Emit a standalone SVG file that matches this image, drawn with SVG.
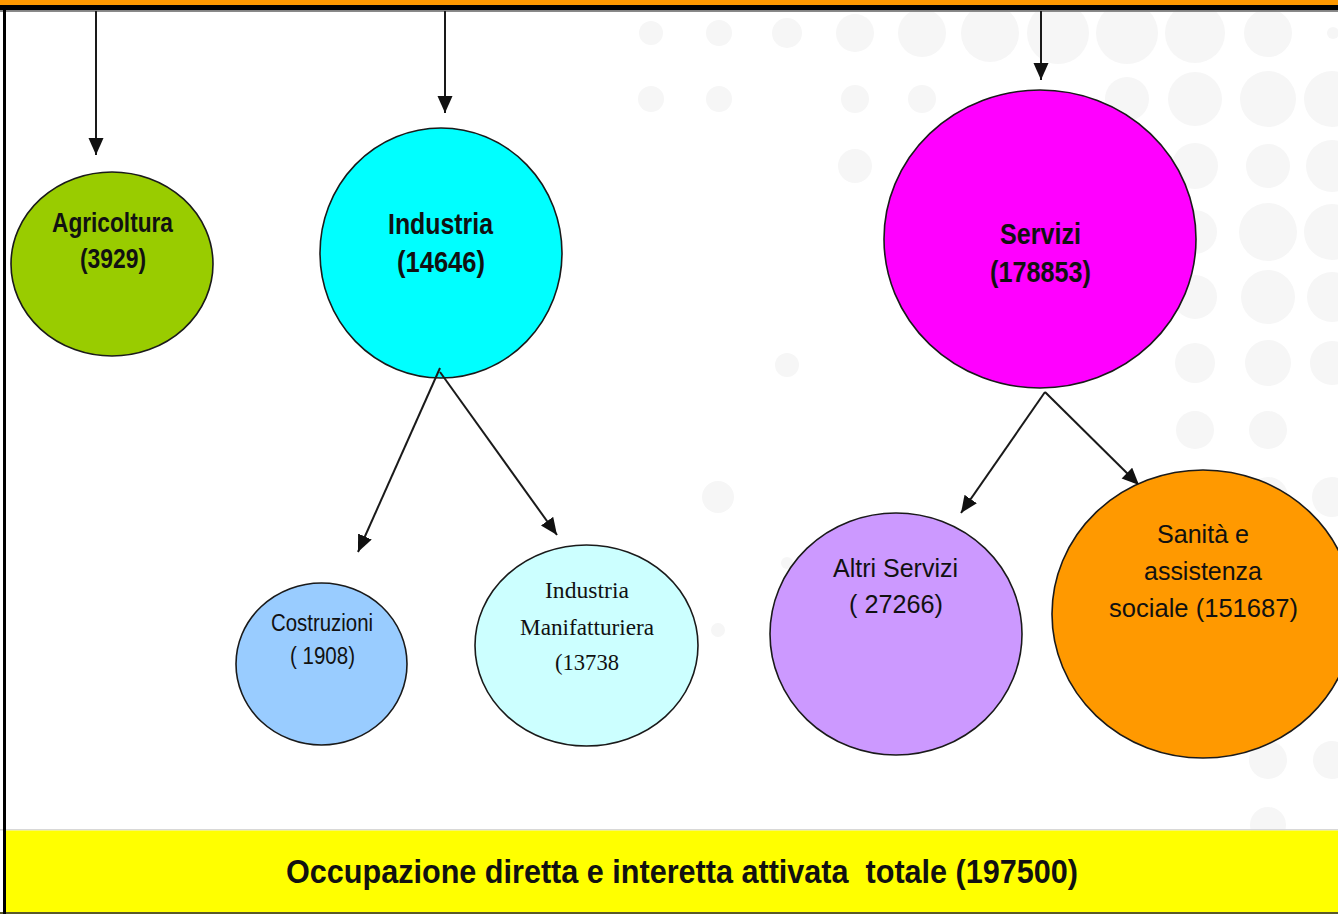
<svg xmlns="http://www.w3.org/2000/svg" width="1338" height="914" viewBox="0 0 1338 914">
  <defs>
    <marker id="arr" markerUnits="userSpaceOnUse" markerWidth="18" markerHeight="16" refX="17" refY="7.5" orient="auto">
      <path d="M0,0 L17,7.5 L0,15 Z" fill="#111"/>
    </marker>
  </defs>
  <style>
    .dot { fill: #f6f6f6; }
    .node { stroke: #1a1a1a; stroke-width: 1.6; }
    .conn { stroke: #1a1a1a; stroke-width: 2; fill: none; marker-end: url(#arr); }
    .b { font-family: "Liberation Sans", Arial, sans-serif; font-weight: bold; fill: #111; text-anchor: middle; }
    .r { font-family: "Liberation Sans", Arial, sans-serif; fill: #111; text-anchor: middle; }
    .s { font-family: "Liberation Serif", "Times New Roman", serif; fill: #111; text-anchor: middle; }
  </style>
  <rect x="0" y="0" width="1338" height="914" fill="#ffffff"/>
  <g id="background-dots">
    <circle class="dot" cx="651" cy="33" r="12"/>
    <circle class="dot" cx="719" cy="33" r="13"/>
    <circle class="dot" cx="787" cy="33" r="15"/>
    <circle class="dot" cx="855" cy="33" r="19"/>
    <circle class="dot" cx="922" cy="33" r="24"/>
    <circle class="dot" cx="990" cy="33" r="29"/>
    <circle class="dot" cx="1058" cy="33" r="31"/>
    <circle class="dot" cx="1127" cy="33" r="31"/>
    <circle class="dot" cx="1195" cy="33" r="30"/>
    <circle class="dot" cx="1268" cy="33" r="24"/>
    <circle class="dot" cx="1333" cy="33" r="6"/>
    <circle class="dot" cx="651" cy="99" r="13"/>
    <circle class="dot" cx="719" cy="99" r="13"/>
    <circle class="dot" cx="855" cy="99" r="14"/>
    <circle class="dot" cx="922" cy="99" r="14"/>
    <circle class="dot" cx="1127" cy="99" r="22"/>
    <circle class="dot" cx="1195" cy="99" r="27"/>
    <circle class="dot" cx="1268" cy="99" r="28"/>
    <circle class="dot" cx="1332" cy="99" r="28"/>
    <circle class="dot" cx="855" cy="166" r="17"/>
    <circle class="dot" cx="1195" cy="166" r="23"/>
    <circle class="dot" cx="1268" cy="166" r="22"/>
    <circle class="dot" cx="1332" cy="166" r="26"/>
    <circle class="dot" cx="1195" cy="232" r="22"/>
    <circle class="dot" cx="1268" cy="232" r="29"/>
    <circle class="dot" cx="1332" cy="232" r="28"/>
    <circle class="dot" cx="1195" cy="297" r="22"/>
    <circle class="dot" cx="1268" cy="297" r="27"/>
    <circle class="dot" cx="1332" cy="297" r="25"/>
    <circle class="dot" cx="787" cy="365" r="12"/>
    <circle class="dot" cx="1195" cy="363" r="20"/>
    <circle class="dot" cx="1268" cy="363" r="23"/>
    <circle class="dot" cx="1332" cy="363" r="22"/>
    <circle class="dot" cx="1195" cy="430" r="19"/>
    <circle class="dot" cx="1268" cy="430" r="19"/>
    <circle class="dot" cx="718" cy="497" r="16"/>
    <circle class="dot" cx="1268" cy="497" r="20"/>
    <circle class="dot" cx="1332" cy="497" r="20"/>
    <circle class="dot" cx="787" cy="563" r="6"/>
    <circle class="dot" cx="718" cy="630" r="7"/>
    <circle class="dot" cx="1268" cy="760" r="19"/>
    <circle class="dot" cx="1332" cy="760" r="19"/>
    <circle class="dot" cx="1268" cy="825" r="18"/>
  </g>
  <g id="frame">
    <rect x="0" y="0" width="1338" height="5" fill="#ff9900"/>
    <rect x="0" y="5" width="1338" height="5.5" fill="#000"/>
    <rect x="0" y="10.5" width="1338" height="1.5" fill="#8a8a8a"/>
    <rect x="3" y="10" width="3" height="904" fill="#000"/>
  </g>
  <g id="connectors">
    <line class="conn" x1="96" y1="11" x2="96" y2="155"/>
    <line class="conn" x1="445" y1="11" x2="445" y2="113"/>
    <line class="conn" x1="1041" y1="11" x2="1041" y2="80"/>
  </g>
  <g id="node-agricoltura">
    <ellipse class="node" cx="112" cy="264" rx="101" ry="92" fill="#99cc00"/>
    <text class="b" x="112.5" y="232" font-size="27" textLength="121" lengthAdjust="spacingAndGlyphs">Agricoltura</text>
    <text class="b" x="113" y="268" font-size="27" textLength="66" lengthAdjust="spacingAndGlyphs">(3929)</text>
  </g>
  <g id="node-industria">
    <ellipse class="node" cx="441" cy="253" rx="121" ry="125" fill="#00ffff"/>
    <text class="b" x="440.5" y="234" font-size="30" textLength="105" lengthAdjust="spacingAndGlyphs">Industria</text>
    <text class="b" x="441" y="272" font-size="30" textLength="88" lengthAdjust="spacingAndGlyphs">(14646)</text>
  </g>
  <g id="node-servizi">
    <ellipse class="node" cx="1040" cy="239" rx="156" ry="149" fill="#ff00ff"/>
    <text class="b" x="1040.5" y="244" font-size="30" textLength="81" lengthAdjust="spacingAndGlyphs">Servizi</text>
    <text class="b" x="1040.5" y="282" font-size="30" textLength="101" lengthAdjust="spacingAndGlyphs">(178853)</text>
  </g>
  <g id="connectors-lower">
    <line class="conn" x1="440" y1="368" x2="358" y2="552"/>
    <line class="conn" x1="440" y1="372" x2="557" y2="535"/>
    <line class="conn" x1="1045" y1="392" x2="961" y2="513"/>
    <line class="conn" x1="1045" y1="392" x2="1139" y2="485"/>
  </g>
  <g id="node-costruzioni">
    <ellipse class="node" cx="321.5" cy="664" rx="85.5" ry="81" fill="#99ccff"/>
    <text class="r" x="322" y="631" font-size="23" textLength="102" lengthAdjust="spacingAndGlyphs">Costruzioni</text>
    <text class="r" x="322.5" y="664" font-size="23" textLength="65" lengthAdjust="spacingAndGlyphs">( 1908)</text>
  </g>
  <g id="node-manifatturiera">
    <ellipse class="node" cx="586.5" cy="645.5" rx="111.5" ry="100.5" fill="#ccffff"/>
    <text class="s" x="587" y="598" font-size="22.5" textLength="84" lengthAdjust="spacingAndGlyphs">Industria</text>
    <text class="s" x="587" y="635" font-size="22.5" textLength="134" lengthAdjust="spacingAndGlyphs">Manifatturiera</text>
    <text class="s" x="587" y="670" font-size="22.5" textLength="64" lengthAdjust="spacingAndGlyphs">(13738</text>
  </g>
  <g id="node-altri-servizi">
    <ellipse class="node" cx="896" cy="634" rx="126" ry="121" fill="#cc99ff"/>
    <text class="r" x="895.5" y="577" font-size="25" textLength="125" lengthAdjust="spacingAndGlyphs">Altri Servizi</text>
    <text class="r" x="896" y="613" font-size="25" textLength="94" lengthAdjust="spacingAndGlyphs">( 27266)</text>
  </g>
  <g id="node-sanita">
    <ellipse class="node" cx="1203" cy="614" rx="151" ry="144" fill="#ff9900"/>
    <text class="r" x="1203" y="543" font-size="25.5" textLength="92" lengthAdjust="spacingAndGlyphs">Sanità e</text>
    <text class="r" x="1203" y="580" font-size="25.5" textLength="118" lengthAdjust="spacingAndGlyphs">assistenza</text>
    <text class="r" x="1203.5" y="617" font-size="25.5" textLength="189" lengthAdjust="spacingAndGlyphs">sociale (151687)</text>
  </g>
  <g id="node-totale">
    <rect x="0" y="829" width="1338" height="1.5" fill="#d8d8d8"/>
    <rect x="6" y="830.5" width="1332" height="81.5" fill="#ffff00"/>
    <rect x="0" y="912" width="1338" height="2" fill="#5a5a2a"/>
    <rect x="3" y="829" width="3" height="85" fill="#000"/>
    <text class="b" x="682" y="883" font-size="33" textLength="792" lengthAdjust="spacingAndGlyphs" xml:space="preserve">Occupazione diretta e interetta attivata  totale (197500)</text>
  </g>
</svg>
